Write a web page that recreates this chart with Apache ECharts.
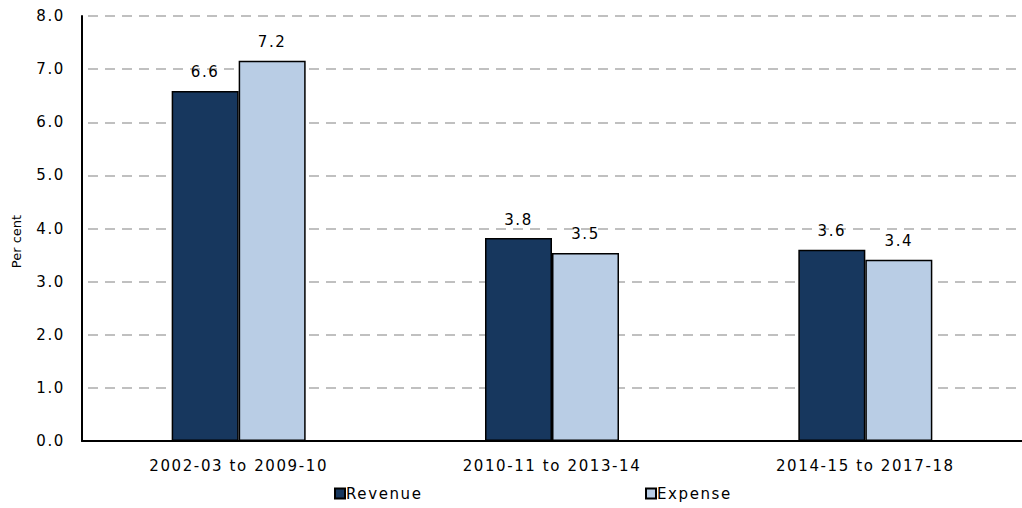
<!DOCTYPE html>
<html>
<head>
<meta charset="utf-8">
<script src="https://cdn.jsdelivr.net/npm/echarts@6/dist/echarts.min.js"></script>
<style>
  html, body { margin: 0; padding: 0; background: #fff; }
  #chart { width: 1022px; height: 508px; }
  /* the source chart has loosely spaced lettering */
  #chart svg text { letter-spacing: 1.6px; }
</style>
</head>
<body>
<div id="chart"></div>
<script>
// periods on the x axis
var periods = ['2002-03 to 2009-10', '2010-11 to 2013-14', '2014-15 to 2017-18']
// average annual growth, per cent
var revenue = [6.59, 3.82, 3.60]
var expense = [7.16, 3.54, 3.41]

var chart = echarts.init(document.getElementById('chart'), null, { renderer: 'svg' })
var font = 'DejaVu Sans'

function oneDec (v) { return v.toFixed(1) }

var legendText = { fontFamily: font, fontSize: 15, color: '#000', padding: [0, 0, 0, -4] }

var opt = {
  animation: false,
  textStyle: { fontFamily: font },
  grid: { left: 82, right: -10, top: 16, bottom: 67 },
  legend: [{
    top: 481, left: 329,
    itemWidth: 10, itemHeight: 10, icon: 'rect',
    textStyle: legendText,
    data: ['Revenue']
  }, {
    top: 481, left: 640,
    itemWidth: 10, itemHeight: 10, icon: 'rect',
    textStyle: legendText,
    data: ['Expense']
  }],
  xAxis: {
    type: 'category',
    data: periods,
    axisLine: { lineStyle: { color: '#000', width: 2 } },
    axisTick: { show: false },
    axisLabel: { color: '#000', fontSize: 15, margin: 17 }
  },
  yAxis: {
    type: 'value',
    min: 0,
    max: 8,
    interval: 1,
    name: 'Per cent',
    nameLocation: 'middle',
    nameGap: 59,
    nameTextStyle: { color: '#000', fontSize: 13, padding: [0, 26, 0, 0] },
    axisLine: { show: true, lineStyle: { color: '#000', width: 2 } },
    axisTick: { show: false },
    axisLabel: { color: '#000', fontSize: 15, margin: 17, formatter: oneDec },
    splitLine: { lineStyle: { color: '#C0C0C0', width: 2, type: [10, 7], dashOffset: -6 } }
  },
  series: [{
    name: 'Revenue',
    type: 'bar',
    data: revenue,
    barWidth: 67,
    barGap: '0%',
    itemStyle: { color: '#17375E', borderColor: '#000', borderWidth: 1.5 },
    label: {
      show: true, position: 'top', distance: 11, color: '#000', fontSize: 15,
      formatter: function (p) { return oneDec(p.value) }
    }
  }, {
    name: 'Expense',
    type: 'bar',
    data: expense,
    barWidth: 67,
    itemStyle: { color: '#B9CDE5', borderColor: '#000', borderWidth: 1.5 },
    label: {
      show: true, position: 'top', distance: 11, color: '#000', fontSize: 15,
      formatter: function (p) { return oneDec(p.value) }
    }
  }]
}
chart.setOption(opt)

// axis title is not spaced out in the source
document.querySelectorAll('#chart svg text').forEach(function (t) {
  if (t.textContent === 'Per cent') t.style.letterSpacing = '0px'
})
</script>
</body>
</html>
